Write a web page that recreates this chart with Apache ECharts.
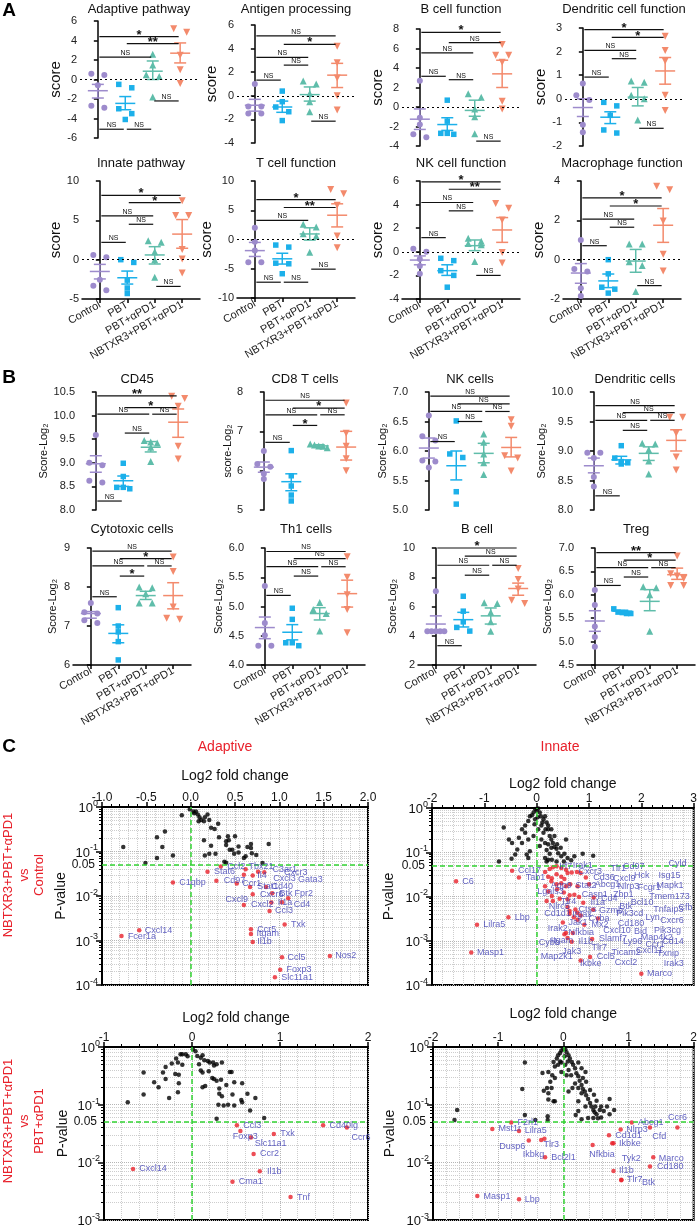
<!DOCTYPE html>
<html><head><meta charset="utf-8">
<script src="https://cdn.jsdelivr.net/npm/echarts@6/dist/echarts.min.js"></script>
<style>html,body{margin:0;padding:0;background:#fff}#c{width:700px;height:1228px}</style>
</head><body><div id="c"></div>
<script>
const FONT = '"Liberation Sans", Arial, Helvetica, sans-serif';
const GROUPS = ['Control', 'PBT', 'PBT+αPD1', 'NBTXR3+PBT+αPD1'];
const COLORS = ['#9d8bcc', '#1cb0ea', '#5fbdaa', '#f38a6c'];
const SYMBOLS = ['circle', 'rect', 'triangle', 'triangle'];
const ROTS = [0, 0, 0, 180];

// ---------- Panel A data ----------
const adaptive_pts = [[0.6, 0.45, -0.6, -2.9, -2.7], [-0.5, -0.85, -3.0, -3.5, -4.1], [2.6, 1.5, 0.5, 0.3, -1.8], [5.2, 4.85, 2.5, 1.0, -0.4]];
const adaptive_mean = [-1.15, -2.45, 0.85, 2.7];
const adaptive_sem = [[-1.9, -0.5], [-3.1, -1.75], [0.0, 1.9], [1.7, 3.75]];
const adaptive_sig = [[0, 3, 4.4, '*'], [1, 3, 3.67, '**'], [0, 2, 2.3, 'NS'], [2, 3, -2.2, 'NS'], [0, 1, -5.1, 'NS'], [1, 2, -5.1, 'NS']];

const antigen_pts = [[1.0, -0.9, -0.9, -1.5, -1.5], [0.4, -0.5, -0.95, -1.35, -2.1], [1.0, 1.25, 0.2, -0.5, -1.35], [4.2, 2.8, 1.5, 0.0, -1.2]];
const antigen_mean = [-0.8, -0.95, 0.1, 1.75];
const antigen_sem = [[-1.3, -0.3], [-1.4, -0.45], [-0.45, 0.75], [0.7, 2.75]];
const antigen_sig = [[0, 3, 5.07, 'NS'], [1, 3, 4.36, '*'], [0, 2, 3.26, 'NS'], [1, 2, 2.6, 'NS'], [0, 1, 1.33, 'NS'], [2, 3, -2.15, 'NS']];

const bcellf_pts = [[2.7, -1.1, -1.8, -3.1, -2.8], [0.7, -1.45, -2.8, -2.7, -2.7], [1.0, 1.35, -0.2, -1.0, -2.75], [6.4, 5.3, 5.3, 4.6, 0.6, -0.2]];
const bcellf_mean = [-1.25, -1.8, -0.35, 3.4];
const bcellf_sem = [[-2.3, -0.2], [-2.4, -1.1], [-0.95, 0.7], [2.0, 4.8]];
const bcellf_sig = [[0, 3, 7.65, '*'], [1, 3, 6.6, 'NS'], [0, 2, 5.55, 'NS'], [0, 1, 3.15, 'NS'], [1, 2, 2.8, 'NS'], [2, 3, -3.5, 'NS']];

const dcf_pts = [[0.65, 0.15, -0.05, -1.1, -1.42], [-0.15, -0.3, -0.7, -1.32, -1.45], [0.7, 0.75, 0.15, 0.0, -0.9], [2.65, 2.05, 1.6, 0.15, -0.5]];
const dcf_mean = [-0.37, -0.78, 0.07, 1.18];
const dcf_sem = [[-0.75, 0.0], [-1.05, -0.55], [-0.3, 0.48], [0.62, 1.75]];
const dcf_sig = [[0, 3, 2.93, '*'], [1, 3, 2.6, '*'], [0, 2, 2.05, 'NS'], [1, 2, 1.7, 'NS'], [0, 1, 0.92, 'NS'], [2, 3, -1.25, 'NS']];

const innatep_pts = [[0.6, 0.3, -2.55, -3.3, -3.9], [0.0, -0.35, -2.6, -3.6, -4.3], [2.2, 2.4, 1.0, 0.0, -2.25], [7.5, 5.6, 5.6, 1.3, 0.1, -1.7]];
const innatep_mean = [-1.5, -2.3, 0.6, 3.25];
const innatep_sem = [[-2.45, -0.6], [-3.1, -1.45], [-0.55, 1.65], [1.45, 5.1]];
const innatep_sig = [[0, 3, 8.18, '*'], [1, 3, 7.25, '*'], [0, 2, 5.56, 'NS'], [1, 2, 4.5, 'NS'], [0, 1, 2.2, 'NS'], [2, 3, -3.4, 'NS']];

const tcellf_pts = [[2.0, -0.4, -1.9, -3.9, -3.9], [-0.95, -1.3, -4.05, -4.15, -5.85], [2.15, 2.6, 1.0, 0.6, -2.2], [8.55, 7.8, 5.85, 0.6, -1.4]];
const tcellf_mean = [-1.9, -3.3, 0.95, 4.15];
const tcellf_sem = [[-2.9, -0.5], [-4.2, -2.35], [-0.1, 2.0], [2.15, 6.1]];
const tcellf_sig = [[0, 3, 6.8, '*'], [1, 3, 5.47, '**'], [0, 2, 3.26, 'NS'], [2, 3, -5.07, 'NS'], [0, 1, -7.3, 'NS'], [1, 2, -7.3, 'NS']];

const nkf_pts = [[0.25, 0.0, -0.6, -1.2, -1.85], [-0.55, -0.75, -1.6, -2.0, -3.0], [0.9, 1.15, 0.7, 0.6, -0.82], [4.1, 3.7, 2.7, -0.05, -0.95]];
const nkf_mean = [-0.7, -1.6, 0.52, 1.85];
const nkf_sem = [[-1.1, -0.35], [-2.0, -1.1], [0.1, 1.0], [0.8, 2.9]];
const nkf_sig = [[0, 3, 5.92, '*'], [1, 3, 5.3, '**'], [0, 2, 4.18, 'NS'], [1, 2, 3.47, 'NS'], [0, 1, 1.2, 'NS'], [2, 3, -2.0, 'NS']];

const macf_pts = [[1.0, -0.6, -0.47, -1.45, -1.85], [0.0, -0.72, -1.4, -1.5, -1.7], [0.8, 0.8, -0.1, -0.3, -1.62], [3.73, 3.56, 1.96, 0.27, -0.57]];
const macf_mean = [-0.68, -1.08, -0.07, 1.75];
const macf_sem = [[-1.2, -0.2], [-1.42, -0.73], [-0.64, 0.52], [0.88, 2.6]];
const macf_sig = [[0, 3, 3.14, '*'], [1, 3, 2.73, '*'], [0, 2, 2.06, 'NS'], [1, 2, 1.65, 'NS'], [0, 1, 0.71, 'NS'], [2, 3, -1.32, 'NS']];

// ---------- Panel B data ----------
const cd45_pts = [[9.59, 9.0, 8.95, 8.58, 8.62], [8.99, 8.71, 8.45, 8.48, 8.48], [9.47, 9.42, 9.44, 9.33, 9.03], [10.41, 10.36, 10.2, 9.35, 9.08]];
const cd45_mean = [8.98, 8.62, 9.33, 9.86];
const cd45_sem = [[8.8, 9.15], [8.5, 8.72], [9.23, 9.45], [9.54, 10.14]];
const cd45_sig = [[0, 3, 10.42, '**'], [1, 3, 10.17, '*'], [0, 2, 10.03, 'NS'], [2, 3, 10.03, 'NS'], [1, 2, 9.63, 'NS'], [0, 1, 8.19, 'NS']];

const cd8_pts = [[6.5, 6.1, 6.17, 5.79, 5.92], [6.51, 5.87, 5.61, 5.38, 5.23], [6.68, 6.65, 6.63, 6.62, 6.58], [7.72, 6.95, 6.62, 6.3, 6.0]];
const cd8_mean = [6.09, 5.72, 6.63, 6.6];
const cd8_sem = [[5.96, 6.22], [5.49, 5.92], [6.6, 6.66], [6.27, 7.0]];
const cd8_sig = [[0, 3, 7.79, 'NS'], [1, 3, 7.59, '*'], [0, 2, 7.42, 'NS'], [2, 3, 7.42, 'NS'], [1, 2, 7.15, '*'], [0, 1, 6.72, 'NS']];

const nkc_pts = [[6.6, 6.25, 6.18, 5.84, 5.82, 5.72], [6.51, 5.89, 5.95, 5.31, 5.1], [6.29, 6.15, 5.95, 5.8, 5.6], [6.53, 6.42, 5.92, 5.88, 5.66]];
const nkc_mean = [6.05, 5.75, 5.96, 6.06];
const nkc_sem = [[5.88, 6.22], [5.51, 6.0], [5.8, 6.13], [5.9, 6.23]];
const nkc_sig = [[0, 3, 6.93, 'NS'], [1, 3, 6.8, 'NS'], [0, 2, 6.67, 'NS'], [2, 3, 6.67, 'NS'], [1, 2, 6.5, 'NS'], [0, 1, 6.16, 'NS']];

const dc_pts = [[8.97, 8.97, 8.88, 8.56, 8.4], [9.09, 8.88, 8.82, 8.8, 8.78], [9.12, 9.13, 9.02, 8.83, 8.61], [9.57, 9.57, 9.3, 8.9, 8.68]];
const dc_mean = [8.75, 8.85, 8.96, 9.18];
const dc_sem = [[8.63, 8.88], [8.78, 8.91], [8.84, 9.07], [9.0, 9.36]];
const dc_sig = [[0, 3, 9.77, 'NS'], [1, 3, 9.65, 'NS'], [0, 2, 9.52, 'NS'], [2, 3, 9.52, 'NS'], [1, 2, 9.35, 'NS'], [0, 1, 8.24, 'NS']];

const cyto_pts = [[7.59, 7.32, 7.35, 7.08, 7.15], [7.47, 7.0, 6.85, 6.6, 6.13], [7.98, 8.0, 7.83, 7.59, 7.59], [8.77, 8.4, 7.49, 7.17, 7.2]];
const cyto_mean = [7.32, 6.81, 7.78, 7.78];
const cyto_sem = [[7.2, 7.37], [6.57, 7.03], [7.68, 7.89], [7.44, 8.11]];
const cyto_sig = [[0, 3, 8.92, 'NS'], [1, 3, 8.73, '*'], [0, 2, 8.54, 'NS'], [2, 3, 8.54, 'NS'], [1, 2, 8.28, '*'], [0, 1, 7.75, 'NS']];

const th1_pts = [[5.35, 4.72, 4.51, 4.33, 4.33], [4.97, 4.78, 4.33, 4.38, 4.38], [5.07, 4.95, 4.88, 4.58], [5.85, 5.5, 5.2, 4.95, 4.55]];
const th1_mean = [4.64, 4.56, 4.88, 5.22];
const th1_sem = [[4.45, 4.82], [4.43, 4.69], [4.77, 4.98], [4.99, 5.45]];
const th1_sig = [[0, 3, 5.94, 'NS'], [1, 3, 5.82, 'NS'], [0, 2, 5.68, 'NS'], [2, 3, 5.68, 'NS'], [1, 2, 5.52, 'NS'], [0, 1, 5.19, 'NS']];

const bc_pts = [[7.05, 4.3, 4.3, 4.3, 4.3, 4.3], [6.7, 5.68, 4.95, 4.57, 4.32], [6.2, 6.25, 5.6, 4.95, 4.3], [8.6, 7.84, 7.2, 6.2, 6.43]];
const bc_mean = [4.8, 5.1, 5.36, 7.23];
const bc_sem = [[4.27, 5.36], [4.6, 5.6], [4.8, 5.9], [6.77, 7.6]];
const bc_sig = [[0, 3, 10.0, '*'], [1, 3, 9.45, 'NS'], [0, 2, 8.82, 'NS'], [2, 3, 8.82, 'NS'], [1, 2, 8.14, 'NS'], [0, 1, 3.32, 'NS']];

const treg_pts = [[6.1, 5.78, 5.32, 5.1, 4.89], [5.7, 5.63, 5.62, 5.6, 5.6], [6.15, 6.17, 6.0, 5.22], [6.83, 6.45, 6.4, 6.35, 6.2, 6.2]];
const treg_mean = [5.44, 5.65, 5.86, 6.43];
const treg_sem = [[5.22, 5.66], [5.62, 5.67], [5.66, 6.11], [6.33, 6.57]];
const treg_sig = [[0, 3, 6.9, '**'], [1, 3, 6.74, '*'], [0, 2, 6.58, 'NS'], [2, 3, 6.58, 'NS'], [1, 2, 6.38, 'NS'], [0, 1, 6.2, 'NS']];

// ---------- Panel C data: [log2FC, p-value] ----------
const adTop_black = [[-0.10,0.65],[-0.01,0.89],[0.03,0.79],[0.04,0.72],[0.06,0.79],[0.08,0.68],[0.10,0.59],[0.12,0.51],[0.09,0.48],[0.16,0.59],[0.19,0.68],[0.21,0.51],[0.15,0.48],[0.23,0.34],[0.27,0.32],[0.31,0.42],[-0.38,0.21],[-0.29,0.28],[-0.32,0.126],[-0.38,0.071],[-0.20,0.081],[-0.76,0.126],[-0.51,0.055],[0.15,0.18],[0.23,0.135],[0.16,0.081],[0.21,0.089],[0.28,0.089],[0.32,0.21],[0.42,0.22],[0.40,0.17],[0.43,0.18],[0.40,0.14],[0.50,0.22],[0.54,0.129],[0.44,0.11],[0.49,0.089],[0.54,0.095],[0.64,0.126],[0.68,0.148],[0.68,0.12],[0.74,0.083],[0.62,0.078],[0.60,0.071],[0.81,0.055],[0.88,0.148],[0.38,0.059],[0.40,0.056],[0.69,0.091],[0.47,0.11]];
const adTop_red = [[0.34,0.046],[0.62,0.040],[0.19,0.035],[0.76,0.035],[0.60,0.030],[0.70,0.029],[0.29,0.022],[0.52,0.019],[0.67,0.016],[0.85,0.016],[-0.2,0.020],[0.70,0.011],[0.92,0.0115],[1.10,0.0089],[0.60,0.0063],[0.91,0.0071],[1.03,0.0072],[0.89,0.0046],[1.06,0.0023],[0.68,0.0018],[0.68,0.0014],[0.70,0.00093],[1.03,0.00042],[1.57,0.00045],[1.01,0.00022],[0.95,0.00015],[-0.58,0.0017],[-0.78,0.00126],[0.83,0.034]];
const adTop_labels = [['Ccl2',0.40,0.046],['Tbx21',0.64,0.046],['C3ar1',0.91,0.040],['Cxcr3',1.04,0.034],['Stat6',0.25,0.035],['Il4',0.74,0.029],['Cxcl3',0.92,0.025],['Gata3',1.20,0.023],['Cd97',0.36,0.022],['Ccr1',0.57,0.019],['Stat1',0.74,0.016],['Cd40',0.90,0.016],['C1qbp',-0.14,0.020],['Cxcr6',0.77,0.011],['Btk',0.99,0.0115],['Fpr2',1.16,0.0112],['Cxcl9',0.38,0.0083],['Il1a',0.97,0.0072],['Cd4',1.15,0.0066],['Cxcl2',0.67,0.0063],['Ccl3',0.94,0.0046],['Txk',1.12,0.0023],['Ccr5',0.74,0.0018],['Itgam',0.73,0.0014],['Il1b',0.74,0.00095],['Ccl5',1.08,0.00042],['Nos2',1.62,0.00045],['Foxp3',1.07,0.00022],['Slc11a1',1.01,0.00015],['Cxcl14',-0.53,0.00166],['Fcer1a',-0.72,0.0012]];

const inTop_black = [[-0.03,0.95],[0,0.87],[0.03,0.98],[0.06,0.79],[-0.06,0.79],[-0.09,0.69],[0.08,0.65],[0.13,0.56],[-0.03,0.56],[0.16,0.65],[0.19,0.47],[0.22,0.40],[0.09,0.40],[0.03,0.33],[-0.13,0.65],[-0.16,0.51],[-0.22,0.40],[-0.28,0.33],[-0.22,0.275],[-0.16,0.195],[-0.06,0.234],[-0.28,0.162],[-0.34,0.214],[-0.37,0.115],[-0.47,0.162],[-0.53,0.195],[-0.63,0.363],[-0.72,0.062],[-0.48,0.071],[-0.41,0.089],[-0.19,0.089],[-0.16,0.074],[-0.13,0.105],[0.22,0.33],[0.25,0.234],[0.28,0.195],[0.31,0.162],[0.34,0.132],[0.38,0.12],[0.22,0.151],[0.19,0.112],[0.25,0.093],[0.41,0.095],[0.47,0.081],[0.53,0.093],[0.56,0.195],[0.59,0.074],[0.16,0.074],[0.19,0.062],[0.29,0.068],[0.38,0.062],[0.52,0.062],[0.66,0.066],[0.72,0.081],[0.88,0.093],[1.08,0.083],[0.09,0.195],[0.13,0.275],[0.16,0.162],[0.06,0.138],[0.28,0.126],[0.34,0.234],[0.39,0.151],[0.46,0.126],[0.22,0.068],[0.02,0.62],[-0.04,0.43],[0.11,0.47],[0.17,0.33],[0.28,0.33]];
const inTop_red = [[0.16,0.036],[0.25,0.042],[0.31,0.046],[0.38,0.048],[0.47,0.044],[0.56,0.040],[0.22,0.028],[0.29,0.026],[0.38,0.032],[0.47,0.028],[0.53,0.025],[0.59,0.034],[0.67,0.035],[0.77,0.036],[0.84,0.034],[0.94,0.027],[0.28,0.022],[0.38,0.019],[0.47,0.020],[0.56,0.017],[0.64,0.019],[0.78,0.017],[1.0,0.019],[0.16,0.017],[0.22,0.013],[0.29,0.0102],[0.39,0.0145],[0.52,0.0123],[0.63,0.0107],[0.72,0.011],[0.81,0.0098],[1.09,0.0095],[0.19,0.0079],[0.31,0.0079],[0.44,0.0089],[0.59,0.0087],[0.89,0.0072],[0.59,0.0058],[0.63,0.0047],[0.74,0.0051],[0.63,0.0041],[0.78,0.0043],[1.08,0.0050],[1.17,0.0032],[0.78,0.0030],[0.50,0.0026],[0.91,0.0023],[0.71,0.0034],[0.56,0.0015],[0.53,0.0014],[0.69,0.0015],[0.67,0.00095],[1.06,0.0011],[0.84,0.00036],[1.02,0.00043],[0.59,0.00115],[0.84,0.0037],[-0.47,0.038],[-0.34,0.027],[-1.54,0.022],[-0.54,0.0034],[-1.14,0.0023],[-1.25,0.00054],[2.0,0.00018]];
const inTop_labels = [['Ccl17',-0.375,0.038],['Tab1',-0.23,0.027],['C6',-1.44,0.022],['Lbp',-0.44,0.0034],['Lilra5',-1.04,0.0023],['Masp1',-1.16,0.00054],['Marco',2.09,0.00018],['Irak3',2.41,0.0003],['Cxcl2',1.47,0.00032],['Ikbke',0.81,0.0003],['Ccl5',1.13,0.00043],['Map2k1',0.06,0.00043],['Jak3',0.47,0.00058],['Ticam2',1.41,0.00054],['Txnip',2.28,0.00051],['Cxcl11',1.88,0.00059],['Tlr7',1.03,0.0007],['Ccr1',2.06,0.00083],['Cybb',0.02,0.00091],['Itgam',0.25,0.001],['Il1b',0.78,0.00095],['Ly96',1.63,0.00095],['Cd14',2.38,0.00095],['Slamf7',1.17,0.0011],['Map4k2',1.97,0.0012],['Nfkbia',0.59,0.0015],['Bid',1.84,0.0016],['Pik3cg',2.22,0.0017],['Cxcl10',1.25,0.0017],['Irak2',0.19,0.0019],['Mx2',1.03,0.0023],['Cd180',1.53,0.0025],['Jak1',0.59,0.0026],['Cxcr6',2.34,0.0028],['Cyba',0.97,0.0032],['Lyn',2.06,0.0033],['Itgax',0.66,0.0039],['Cd1d1',0.125,0.0041],['Pik3cd',1.5,0.0041],['Gzmb',1.17,0.0049],['Tnfaip3',2.21,0.005],['Cfb',2.69,0.0055],['Ctss',0.78,0.0051],['Nlrc5',0.21,0.0058],['Btk',1.56,0.006],['Il1a',1.01,0.0072],['Bcl10',1.78,0.0072],['Tlr4',0.44,0.0079],['Cd4',1.21,0.0089],['Tmem173',2.13,0.0098],['Casp1',0.84,0.0112],['Zbp1',1.44,0.0112],['Lgals3',-0.01,0.0129],['Fcgr1',1.91,0.0158],['Nlrp3',1.53,0.0166],['Stat2',0.72,0.0174],['Abcg1',1.09,0.0182],['Aqp9',0.25,0.0174],['Mapk1',2.27,0.0174],['Cd36',1.06,0.027],['Cxcl9',1.44,0.0257],['Hck',1.84,0.0295],['Isg15',2.31,0.0295],['Cxcr3',0.78,0.036],['Tlr1',1.39,0.043],['Cd97',1.63,0.048],['Cyld',2.5,0.057],['Irf7',0.41,0.048],['Irak1',0.67,0.049]];

const adBot_black = [[-0.73,0.11],[-0.55,0.36],[-0.55,0.15],[-0.43,0.245],[-0.38,0.2],[-0.33,0.36],[-0.30,0.45],[-0.30,0.28],[-0.26,0.13],[-0.23,0.52],[-0.19,0.34],[-0.18,0.63],[-0.16,0.54],[-0.15,0.33],[-0.13,0.75],[-0.11,0.49],[-0.16,0.165],[-0.15,0.235],[-0.11,0.75],[-0.07,0.75],[-0.05,0.69],[0.01,0.91],[0.04,0.84],[0.06,0.70],[0.1,0.65],[0.12,0.72],[0.14,0.59],[0.18,0.57],[0.2,0.54],[0.24,0.54],[0.25,0.48],[0.28,0.5],[0.34,0.54],[0.08,0.5],[0.1,0.39],[0.12,0.36],[0.19,0.38],[0.23,0.29],[0.25,0.28],[0.28,0.26],[0.33,0.27],[0.43,0.37],[0.45,0.37],[0.12,0.2],[0.15,0.21],[0.31,0.19],[0.39,0.22],[0.48,0.245],[0.57,0.235],[0.31,0.155],[0.34,0.14],[0.46,0.15],[0.63,0.154],[0.56,0.12],[0.57,0.11],[0.72,0.13],[0.3,0.1],[0.36,0.097],[0.41,0.1],[0.48,0.097],[0.66,0.079],[0.28,0.057],[0.82,0.059]];
const adBot_red = [[0.51,0.044],[0.55,0.035],[0.93,0.031],[0.67,0.027],[0.70,0.014],[0.77,0.0070],[0.46,0.0046],[1.12,0.0025],[-0.67,0.0077],[1.49,0.044],[1.76,0.040]];
const adBot_labels = [['Ccl3',0.57,0.044],['Foxp3',0.45,0.028],['Txk',0.99,0.031],['Slc11a1',0.70,0.021],['Ccr2',0.76,0.014],['Il1b',0.84,0.007],['Cma1',0.52,0.0046],['Tnf',1.18,0.0025],['Cxcl14',-0.61,0.0077],['Cd40lg',1.55,0.044],['Ccr6',1.8,0.027]];

const inBot_black = [[-1.67,0.054],[-1.63,0.081],[-0.63,0.186],[-0.59,0.54],[-0.59,0.066],[-0.43,0.054],[-0.24,0.063],[-0.24,0.054],[-0.32,0.355],[-0.30,0.174],[-0.25,0.195],[-0.23,0.158],[-0.20,0.25],[-0.23,0.123],[-0.18,0.195],[-0.15,0.115],[-0.13,0.115],[-0.17,0.324],[-0.13,0.457],[-0.15,0.55],[-0.10,0.63],[-0.08,0.72],[-0.05,0.79],[-0.03,0.87],[0,0.93],[0.03,0.91],[0.05,0.81],[0.08,0.72],[0.10,0.63],[0.13,0.55],[0.15,0.49],[0.18,0.43],[0.20,0.35],[0.23,0.31],[0.25,0.26],[0.28,0.22],[0.30,0.186],[0.33,0.17],[0.35,0.145],[0.38,0.126],[0.41,0.107],[0.43,0.093],[0.46,0.081],[0.48,0.074],[0.51,0.068],[0.53,0.058],[0.56,0.081],[0.58,0.093],[0.62,0.078],[0.71,0.126],[0.78,0.081],[0.71,0.068],[0.46,0.059],[0.38,0.059],[0.28,0.056],[0.19,0.066],[0.23,0.115],[0.28,0.158],[0.18,0.234],[0.12,0.324],[0.08,0.40],[0.03,0.49],[-0.03,0.54],[-0.08,0.49],[-0.03,0.37],[0.05,0.324],[0.14,0.195],[0.08,0.17],[0.23,0.195],[0.30,0.29],[0.35,0.25],[0.41,0.18],[0.47,0.148],[0.51,0.117],[0.34,0.093],[0.23,0.54],[0.28,0.43],[0.34,0.37],[0.07,0.56],[0.02,0.69],[-0.05,0.56],[-0.13,0.29],[-0.23,0.37],[0.58,0.06],[0.67,0.093],[0.49,0.093],[0.23,0.078]];
const inBot_red = [[-0.80,0.049],[-1.09,0.038],[-0.68,0.035],[-0.53,0.024],[-0.34,0.0245],[-0.29,0.0257],[-0.28,0.0123],[-1.32,0.0026],[-0.68,0.0023],[1.05,0.049],[0.88,0.037],[0.70,0.0295],[0.75,0.0214],[0.77,0.0214],[0.45,0.020],[1.33,0.040],[1.75,0.040],[1.38,0.0123],[1.33,0.0085],[0.77,0.0071],[0.89,0.005],[0.89,0.0049]];
const inBot_labels = [['F2rl1',-0.72,0.049],['Mst1r',-1.01,0.038],['Lilra5',-0.61,0.035],['Dusp6',-1.0,0.0186],['Tlr3',-0.32,0.020],['Ikbkg',-0.64,0.0135],['Bcl2l1',-0.20,0.0123],['Masp1',-1.24,0.0026],['Lbp',-0.61,0.0023],['Abcg1',1.13,0.049],['Ccr6',1.59,0.060],['Nlrp3',0.95,0.037],['Cd1d1',0.78,0.0295],['Cfd',1.35,0.028],['Ikbke',0.84,0.0214],['Nfkbia',0.38,0.0138],['Tyk2',0.88,0.0117],['Marco',1.45,0.0117],['Cd180',1.42,0.0085],['Il1b',0.84,0.0071],['Tlr7',0.96,0.005],['Btk',1.19,0.0045]];

// ---------- layout ----------
const W = 118;
const scoreCharts = [
  {title:'Adaptive pathway', d:[adaptive_pts,adaptive_mean,adaptive_sem,adaptive_sig], left:80, top:21, h:117, min:-6, max:6, step:2, dec:0, name:'score', gap:15, ns:15, showX:false, zero:true, ty:9},
  {title:'Antigen processing', d:[antigen_pts,antigen_mean,antigen_sem,antigen_sig], left:237, top:25, h:118, min:-4, max:6, step:2, dec:0, name:'score', gap:18, ns:15, showX:false, zero:true, ty:9},
  {title:'B cell function', d:[bcellf_pts,bcellf_mean,bcellf_sem,bcellf_sig], left:402, top:29, h:117, min:-4, max:8, step:2, dec:0, name:'score', gap:16, ns:15, showX:false, zero:true, ty:9},
  {title:'Dendritic cell function', d:[dcf_pts,dcf_mean,dcf_sem,dcf_sig], left:565, top:28, h:118, min:-2, max:3, step:1, dec:0, name:'score', gap:15, ns:15, showX:false, zero:true, ty:9},
  {title:'Innate pathway', d:[innatep_pts,innatep_mean,innatep_sem,innatep_sig], left:82, top:181, h:118, min:-5, max:10, step:5, dec:0, name:'score', gap:17, ns:15, showX:true, zero:true, ty:163},
  {title:'T cell function', d:[tcellf_pts,tcellf_mean,tcellf_sem,tcellf_sig], left:237, top:181, h:117, min:-10, max:10, step:5, dec:0, name:'score', gap:19, ns:15, showX:true, zero:true, ty:163},
  {title:'NK cell function', d:[nkf_pts,nkf_mean,nkf_sem,nkf_sig], left:402, top:181, h:118, min:-4, max:6, step:2, dec:0, name:'score', gap:17, ns:15, showX:true, zero:true, ty:163},
  {title:'Macrophage function', d:[macf_pts,macf_mean,macf_sem,macf_sig], left:563, top:181, h:118, min:-2, max:4, step:2, dec:0, name:'score', gap:14, ns:15, showX:true, zero:true, ty:163},
  {title:'CD45', d:[cd45_pts,cd45_mean,cd45_sem,cd45_sig], left:78, top:392, h:118, min:8, max:10.5, step:0.5, dec:1, name:'Score-Log₂', gap:27, ns:11, showX:false, zero:false, ty:379},
  {title:'CD8 T cells', d:[cd8_pts,cd8_mean,cd8_sem,cd8_sig], left:246, top:392, h:118, min:5, max:8, step:1, dec:0, name:'score-Log₂', gap:13, ns:11, showX:false, zero:false, ty:379},
  {title:'NK cells', d:[nkc_pts,nkc_mean,nkc_sem,nkc_sig], left:411, top:392, h:118, min:5, max:7, step:0.5, dec:1, name:'Score-Log₂', gap:23, ns:11, showX:false, zero:false, ty:379},
  {title:'Dendritic cells', d:[dc_pts,dc_mean,dc_sem,dc_sig], left:576, top:392, h:118, min:8, max:10, step:0.5, dec:1, name:'Score-Log₂', gap:23, ns:11, showX:false, zero:false, ty:379},
  {title:'Cytotoxic cells', d:[cyto_pts,cyto_mean,cyto_sem,cyto_sig], left:73, top:548, h:117, min:6, max:9, step:1, dec:0, name:'Score-Log₂', gap:15, ns:11, showX:true, zero:false, ty:529},
  {title:'Th1 cells', d:[th1_pts,th1_mean,th1_sem,th1_sig], left:247, top:548, h:117, min:4, max:6, step:0.5, dec:1, name:'Score-Log₂', gap:18, ns:11, showX:true, zero:false, ty:529},
  {title:'B cell', d:[bc_pts,bc_mean,bc_sem,bc_sig], left:418, top:548, h:117, min:2, max:10, step:2, dec:0, name:'Score-Log₂', gap:20, ns:11, showX:true, zero:false, ty:529},
  {title:'Treg', d:[treg_pts,treg_mean,treg_sem,treg_sig], left:577, top:548, h:117, min:4.5, max:7, step:0.5, dec:1, name:'Score-Log₂', gap:24, ns:11, showX:true, zero:false, ty:529}
];

const volcanos = [
  {d:[adTop_black, adTop_red, adTop_labels], left:102, top:807, w:266, h:178, xmin:-1, xmax:2, xstep:0.5, dec:1, ymin:1e-4, xgap:24, ygap:34},
  {d:[inTop_black, inTop_red, inTop_labels], left:432, top:808, w:265, h:177, xmin:-2, xmax:3, xstep:1, dec:0, ymin:1e-4, xgap:17, ygap:36},
  {d:[adBot_black, adBot_red, adBot_labels], left:104, top:1047, w:264, h:175, xmin:-1, xmax:2, xstep:1, dec:0, ymin:1e-3, xgap:22, ygap:34},
  {d:[inBot_black, inBot_red, inBot_labels], left:433, top:1047, w:264, h:175, xmin:-2, xmax:2, xstep:1, dec:0, ymin:1e-3, xgap:26, ygap:36}
];

// ---------- builders ----------
const grid = [], xAxis = [], yAxis = [], series = [], graphic = [];
const XMIN = -0.65, XMAX = 3.65;

function swarm(vals, g, ppu, ppc) {
  const idx = vals.map((v, i) => i).sort((a, b) => vals[b] - vals[a]);
  const rows = [];
  idx.forEach(i => {
    const r = rows[rows.length - 1];
    if (r && (vals[r[0]] - vals[i]) * ppu < 5) r.push(i); else rows.push([i]);
  });
  const out = [];
  rows.forEach(r => {
    const n = r.length;
    const sp = n === 1 ? 0 : (n === 2 ? 13 : Math.min(6.5, 17 / (n - 1)));
    r.forEach((i, k) => out.push([g + ((k - (n - 1) / 2) * sp) / ppc, vals[i]]));
  });
  return out;
}

function txt(x, y, text, font, fill, rot, align) {
  graphic.push({type:'text', x:x, y:y, rotation: rot || 0, silent:true,
    style:{text:text, font:font, fill:fill || '#111', textAlign: align || 'center', textVerticalAlign:'middle', align: align || 'center', verticalAlign:'middle'}});
}

scoreCharts.forEach((c, i) => {
  const [pts, mean, sem, sig] = c.d;
  grid.push({left:c.left, top:c.top, width:W, height:c.h});
  xAxis.push({gridIndex:i, type:'value', min:XMIN, max:XMAX,
    axisLine:{show:c.showX, onZero:false, lineStyle:{color:'#000', width:1.5}},
    axisTick:{show:c.showX, customValues:[0,1,2,3], length:4, lineStyle:{color:'#000', width:1.5}},
    axisLabel:{show:c.showX, customValues:[0,1,2,3], formatter:v => GROUPS[Math.round(v)] || '', rotate:30, fontSize:11, color:'#222', margin:5, fontFamily:FONT},
    splitLine:{show:false}});
  yAxis.push({gridIndex:i, type:'value', min:c.min, max:c.max, interval:c.step,
    axisLine:{show:true, lineStyle:{color:'#000', width:1.5}},
    axisTick:{show:true, length:4, lineStyle:{color:'#000', width:1.5}},
    axisLabel:{fontSize:11, color:'#222', margin:3, fontFamily:FONT, formatter:v => v.toFixed(c.dec)},
    splitLine:{show:false},
    name:c.name, nameLocation:'middle', nameGap:c.gap, nameTextStyle:{fontSize:c.ns, color:'#111', fontFamily:FONT}});
  const ppu = c.h / (c.max - c.min), ppc = W / (XMAX - XMIN);
  pts.forEach((vals, g) => {
    const s = {type:'scatter', xAxisIndex:i, yAxisIndex:i, symbol:SYMBOLS[g], symbolRotate:ROTS[g],
      symbolSize: g === 1 ? 5.5 : (g >= 2 ? 7 : 6), itemStyle:{color:COLORS[g], opacity:1},
      data: swarm(vals, g, ppu, ppc), z:3};
    if (g === 0 && c.zero) {
      s.markLine = {silent:true, symbol:'none', label:{show:false}, animation:false,
        lineStyle:{color:'#000', type:[2,3], width:1}, data:[{yAxis:0}]};
    }
    series.push(s);
  });
  series.push({type:'custom', xAxisIndex:i, yAxisIndex:i, z:4,
    data: mean.map((m, g) => [g, m, sem[g][0], sem[g][1]]),
    encode:{x:0, y:[1,2,3]},
    renderItem:(params, api) => {
      const g = params.dataIndex;
      const c0 = api.coord([api.value(0), api.value(1)]);
      const lo = api.coord([api.value(0), api.value(2)]);
      const hi = api.coord([api.value(0), api.value(3)]);
      const st = {stroke:COLORS[g], lineWidth:1.5};
      return {type:'group', children:[
        {type:'line', shape:{x1:c0[0]-10, y1:c0[1], x2:c0[0]+10, y2:c0[1]}, style:st},
        {type:'line', shape:{x1:c0[0], y1:lo[1], x2:c0[0], y2:hi[1]}, style:st},
        {type:'line', shape:{x1:c0[0]-6, y1:lo[1], x2:c0[0]+6, y2:lo[1]}, style:st},
        {type:'line', shape:{x1:c0[0]-6, y1:hi[1], x2:c0[0]+6, y2:hi[1]}, style:st}
      ]};
    }});
  series.push({type:'custom', xAxisIndex:i, yAxisIndex:i, z:5,
    data: sig.map(s => [s[0], s[1], s[2]]),
    encode:{x:[0,1], y:2},
    renderItem:(params, api) => {
      const s = sig[params.dataIndex];
      const p1 = api.coord([s[0], s[2]]), p2 = api.coord([s[1], s[2]]);
      const x1 = p1[0] + 1.5, x2 = p2[0] - 1.5, y = p1[1];
      const star = s[3] !== 'NS';
      return {type:'group', children:[
        {type:'line', shape:{x1:x1, y1:y, x2:x2, y2:y}, style:{stroke:'#111', lineWidth:1.2}},
        {type:'text', x:(x1 + x2) / 2, y: star ? y + 5 : y - 0.5,
          style:{text:s[3], textAlign:'center', textVerticalAlign:'bottom', align:'center', verticalAlign:'bottom',
            font: star ? 'bold 13px ' + FONT : '7px ' + FONT, fill:'#111'}}
      ]};
    }});
  txt(c.left + W / 2, c.ty, c.title, '13px ' + FONT, '#111');
});

volcanos.forEach((v, k) => {
  const gi = scoreCharts.length + k;
  const [black, red, labels] = v.d;
  grid.push({left:v.left, top:v.top, width:v.w, height:v.h, show:true, borderColor:'#000', borderWidth:2, backgroundColor:'rgba(0,0,0,0)'});
  xAxis.push({gridIndex:gi, type:'value', position:'top', min:v.xmin, max:v.xmax, interval:v.xstep,
    axisLine:{show:true, onZero:false, lineStyle:{color:'#000', width:2}},
    axisTick:{show:true, length:5, lineStyle:{color:'#000', width:1.5}},
    minorTick:{show:true, splitNumber:5, length:3, lineStyle:{color:'#000', width:1}},
    splitLine:{show:true, lineStyle:{color:'#b5b5b5', type:'dotted', width:1}},
    minorSplitLine:{show:true, lineStyle:{color:'#cdcdcd', type:'dotted', width:1}},
    axisLabel:{fontSize:12, color:'#111', margin:3, fontFamily:FONT, formatter:x => x.toFixed(v.dec)},
    name:'Log2 fold change', nameLocation:'middle', nameGap:v.xgap, nameTextStyle:{fontSize:14, color:'#111', fontFamily:FONT}});
  yAxis.push({gridIndex:gi, type:'log', logBase:10, min:v.ymin, max:1,
    axisLine:{show:true, onZero:false, lineStyle:{color:'#000', width:2}},
    axisTick:{show:true, length:6, lineStyle:{color:'#000', width:1.5}},
    minorTick:{show:true, splitNumber:9, length:3, lineStyle:{color:'#000', width:1}},
    splitLine:{show:true, lineStyle:{color:'#b5b5b5', type:'dotted', width:1}},
    minorSplitLine:{show:true, lineStyle:{color:'#cdcdcd', type:'dotted', width:1}},
    axisLabel:{margin:4, formatter:y => '{b|10}{s|' + Math.round(Math.log10(y)) + '}',
      rich:{b:{fontSize:13, color:'#111', fontFamily:FONT, verticalAlign:'bottom', lineHeight:16},
            s:{fontSize:9, color:'#111', fontFamily:FONT, verticalAlign:'top', lineHeight:16}}},
    name:'P-value', nameLocation:'middle', nameGap:v.ygap, nameTextStyle:{fontSize:14, color:'#111', fontFamily:FONT}});
  series.push({type:'scatter', xAxisIndex:gi, yAxisIndex:gi, symbolSize:4.5, itemStyle:{color:'#000'}, data:black, z:3,
    markLine:{silent:true, symbol:'none', animation:false, lineStyle:{color:'#33d433', type:[5,3], width:1.5},
      data:[{xAxis:0, label:{show:false}},
            {yAxis:0.05, label:{show:true, position:'start', formatter:'0.05', fontSize:12, color:'#111', fontFamily:FONT, distance:7}}]}});
  series.push({type:'scatter', xAxisIndex:gi, yAxisIndex:gi, symbolSize:4.5, itemStyle:{color:'#e8212b'}, data:red, z:4});
  series.push({type:'scatter', xAxisIndex:gi, yAxisIndex:gi, symbolSize:0.1, itemStyle:{color:'rgba(0,0,0,0)'}, z:5,
    data: labels.map(l => [l[1], l[2], l[0]]),
    label:{show:true, position:'right', distance:1, formatter:p => p.value[2], fontSize:9, color:'#3b3bb3', fontFamily:FONT}});
});

// ---------- text ----------
txt(9, 11, 'A', 'bold 19px ' + FONT, '#000');
txt(9, 378, 'B', 'bold 19px ' + FONT, '#000');
txt(9, 747, 'C', 'bold 19px ' + FONT, '#000');
txt(225, 747, 'Adaptive', '14px ' + FONT, '#e8212b');
txt(560, 747, 'Innate', '14px ' + FONT, '#e8212b');
const R = Math.PI / 2;
txt(8, 875, 'NBTXR3+PBT+αPD1', '13px ' + FONT, '#e8212b', R);
txt(24, 875, 'vs', '13px ' + FONT, '#e8212b', R);
txt(39, 875, 'Control', '13px ' + FONT, '#e8212b', R);
txt(8, 1121, 'NBTXR3+PBT+αPD1', '13px ' + FONT, '#e8212b', R);
txt(24, 1121, 'vs', '13px ' + FONT, '#e8212b', R);
txt(39, 1121, 'PBT+αPD1', '13px ' + FONT, '#e8212b', R);

const chart = echarts.init(document.getElementById('c'), null, {renderer:'canvas'});
chart.setOption({animation:false, backgroundColor:'#fff', textStyle:{fontFamily:FONT},
  grid:grid, xAxis:xAxis, yAxis:yAxis, series:series, graphic:graphic});
</script></body></html>
